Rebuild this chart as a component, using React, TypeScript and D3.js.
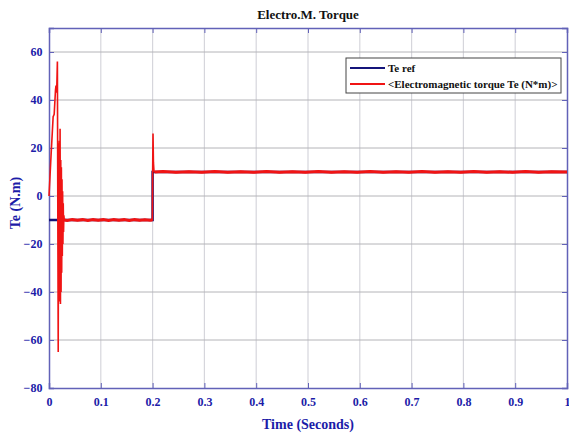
import React, { useEffect, useRef } from 'react';
import * as d3 from 'd3';

// time ticks and torque ticks
const xTicks = [0, 0.1, 0.2, 0.3, 0.4, 0.5, 0.6, 0.7, 0.8, 0.9, 1];
const yTicks = [-80, -60, -40, -20, 0, 20, 40, 60];

// reference torque (step from -10 to +10 at 0.2 s)
const refTime = [0, 0.2, 0.2, 1];
const refTorque = [-10, -10, 10, 10];

// electromagnetic torque: start-up transient
const startTime = [
  0, 0.004, 0.008, 0.01, 0.0125, 0.0135, 0.0148, 0.0162, 0.0178, 0.0186, 0.0193,
  0.02, 0.0207, 0.0214, 0.0221, 0.0227, 0.0233, 0.0239, 0.0245, 0.0251, 0.0257,
  0.0263, 0.0269, 0.0275, 0.0281, 0.0287, 0.0295,
];
const startTorque = [
  0, 17, 33, 34, 44, 46, 43, 56, -65, 22, -44, 23, -42, 28, -45, 15, -40, 12, -32, 7,
  -25, 2, -20, -3, -15, -8, -10,
];

// first plateau (-10 N.m) with small ripple
const lowTime = [
  0.0295, 0.035, 0.045, 0.055, 0.065, 0.075, 0.085, 0.095, 0.105, 0.115, 0.125, 0.135,
  0.145, 0.155, 0.165, 0.175, 0.185, 0.195, 0.1995,
];
const lowTorque = [
  -10, -10.2, -9.85, -10.15, -9.85, -10.2, -9.85, -10.15, -9.85, -10.2, -9.85, -10.15,
  -9.85, -10.2, -9.85, -10.15, -9.85, -10.1, -10,
];

// step at 0.2 s
const stepTime = [0.2, 0.2008, 0.2016, 0.2026, 0.204];
const stepTorque = [8, 26, 14, 10.5, 10];

// second plateau (+10 N.m) with small ripple
const highTime = [
  0.204, 0.22, 0.245, 0.27, 0.295, 0.32, 0.345, 0.37, 0.395, 0.42, 0.445, 0.47, 0.495,
  0.52, 0.545, 0.57, 0.595, 0.62, 0.645, 0.67, 0.695, 0.72, 0.745, 0.77, 0.795, 0.82,
  0.845, 0.87, 0.895, 0.92, 0.945, 0.97, 1,
];
const highTorque = [
  10, 10.2, 9.85, 10.15, 9.85, 10.2, 9.85, 10.15, 9.85, 10.2, 9.85, 10.15, 9.85, 10.2,
  9.85, 10.15, 9.85, 10.2, 9.85, 10.15, 9.85, 10.2, 9.85, 10.15, 9.85, 10.2, 9.85,
  10.15, 9.85, 10.2, 9.85, 10.15, 10,
];

const legendNames = ['Te ref', '<Electromagnetic torque Te (N*m)>'];

const width = 569;
const height = 435;
const left = 49;
const right = 567;
const top = 28;
const bottom = 388;

const axisColor = '#6262b8';
const labelColor = '#1c1ca8';
const font = '"Liberation Serif", "Times New Roman", serif';

export default function App() {
  const ref = useRef<SVGSVGElement>(null);

  useEffect(() => {
    const svg = d3.select(ref.current);
    svg.selectAll('*').remove();

    const x = d3.scaleLinear().domain([0, 1]).range([left, right]);
    const y = d3.scaleLinear().domain([-80, 70]).range([bottom, top]);

    svg.append('rect').attr('width', width).attr('height', height).attr('fill', '#fff');

    // grid
    svg
      .append('g')
      .selectAll('line')
      .data(xTicks.slice(1, -1))
      .enter()
      .append('line')
      .attr('x1', (d) => x(d))
      .attr('x2', (d) => x(d))
      .attr('y1', top)
      .attr('y2', bottom)
      .attr('stroke', '#d6d6dc')
      .attr('stroke-width', 1.2);

    svg
      .append('g')
      .selectAll('line')
      .data(yTicks.slice(1))
      .enter()
      .append('line')
      .attr('x1', left)
      .attr('x2', right)
      .attr('y1', (d) => y(d))
      .attr('y2', (d) => y(d))
      .attr('stroke', '#b4b4b8')
      .attr('stroke-width', 1);

    // axes with inward ticks on all four sides
    const xAxis = d3.axisBottom(x).tickValues(xTicks).tickSize(-5).tickFormat(d3.format('~g'));
    const yAxis = d3.axisLeft(y).tickValues(yTicks).tickSize(-5).tickFormat(d3.format('d'));

    const gx = svg.append('g').attr('transform', 'translate(0,' + bottom + ')').call(xAxis);
    const gy = svg.append('g').attr('transform', 'translate(' + left + ',0)').call(yAxis);
    svg
      .append('g')
      .attr('transform', 'translate(0,' + top + ')')
      .call(d3.axisTop(x).tickValues(xTicks).tickSize(-5).tickFormat(() => ''));
    svg
      .append('g')
      .attr('transform', 'translate(' + right + ',0)')
      .call(d3.axisRight(y).tickValues(yTicks).tickSize(-5).tickFormat(() => ''));

    svg.selectAll('.domain').attr('stroke', axisColor).attr('stroke-width', 1.5);
    svg.selectAll('.tick line').attr('stroke', axisColor);
    svg
      .selectAll('.tick text')
      .attr('fill', labelColor)
      .style('font-family', font)
      .style('font-weight', 'bold')
      .style('font-size', '12px');
    gx.selectAll('.tick text').attr('dy', '1.25em');
    gy.selectAll('.tick text').attr('dx', '-0.3em');

    const line = d3
      .line<[number, number]>()
      .x((d) => x(d[0]))
      .y((d) => y(d[1]));

    const zip = (a: number[], b: number[]) => a.map((t, i) => [t, b[i]] as [number, number]);

    svg
      .append('path')
      .attr('d', line(zip(refTime, refTorque)))
      .attr('fill', 'none')
      .attr('stroke', '#14147a')
      .attr('stroke-width', 2.5);

    const teTime = startTime.concat(lowTime, stepTime, highTime);
    const teTorque = startTorque.concat(lowTorque, stepTorque, highTorque);
    svg
      .append('path')
      .attr('d', line(zip(teTime, teTorque)))
      .attr('fill', 'none')
      .attr('stroke', '#f01414')
      .attr('stroke-width', 1.6)
      .attr('stroke-linejoin', 'miter');

    // steady-state segments drawn thicker
    [zip(lowTime, lowTorque), zip(highTime, highTorque)].forEach((seg) => {
      svg
        .append('path')
        .attr('d', line(seg))
        .attr('fill', 'none')
        .attr('stroke', '#f01414')
        .attr('stroke-width', 3);
    });

    // legend
    const lg = svg.append('g').attr('transform', 'translate(346,58)');
    lg.append('rect')
      .attr('width', 215)
      .attr('height', 35)
      .attr('fill', '#fff')
      .attr('stroke', '#444')
      .attr('stroke-width', 1);
    const colors = ['#14147a', '#f01414'];
    legendNames.forEach((name, i) => {
      const ly = 10 + i * 16;
      lg.append('line')
        .attr('x1', 4)
        .attr('x2', 39)
        .attr('y1', ly)
        .attr('y2', ly)
        .attr('stroke', colors[i])
        .attr('stroke-width', 2);
      lg.append('text')
        .attr('x', 42)
        .attr('y', ly + 4)
        .text(name)
        .style('font-family', font)
        .style('font-weight', 'bold')
        .style('font-size', '11px')
        .attr('fill', '#111');
    });

    // titles
    svg
      .append('text')
      .attr('x', (left + right) / 2)
      .attr('y', 19)
      .attr('text-anchor', 'middle')
      .text('Electro.M. Torque')
      .style('font-family', font)
      .style('font-weight', 'bold')
      .style('font-size', '13px')
      .attr('fill', '#111');

    svg
      .append('text')
      .attr('x', (left + right) / 2)
      .attr('y', 429)
      .attr('text-anchor', 'middle')
      .text('Time (Seconds)')
      .style('font-family', font)
      .style('font-weight', 'bold')
      .style('font-size', '14px')
      .attr('fill', labelColor);

    svg
      .append('text')
      .attr('transform', 'translate(20,' + 203 + ') rotate(-90)')
      .attr('text-anchor', 'middle')
      .text('Te (N.m)')
      .style('font-family', font)
      .style('font-weight', 'bold')
      .style('font-size', '14px')
      .attr('fill', labelColor);
  }, []);

  return (
    <svg
      ref={ref}
      width={width}
      height={height}
      style={{ position: 'absolute', left: 0, top: 0, display: 'block' }}
    />
  );
}
